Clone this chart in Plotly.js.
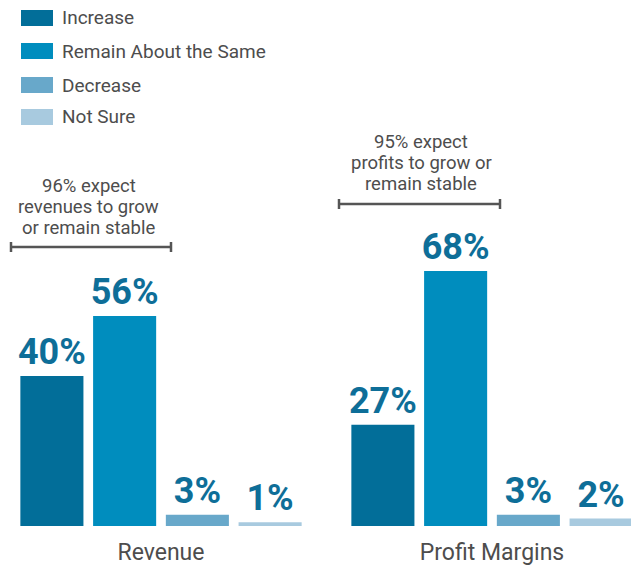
<!DOCTYPE html>
<html>
<head>
<meta charset="utf-8">
<script src="https://cdn.plot.ly/plotly-3.0.1.min.js"></script>
<style>html,body{margin:0;padding:0;background:#fff;}#chart{width:631px;height:565px;}</style>
</head>
<body>
<div id="chart"></div>
<script>
const categories = ['Revenue', 'Profit Margins'];
const seriesNames = ['Increase', 'Remain About the Same', 'Decrease', 'Not Sure'];
const increase = [40, 27];
const remainSame = [56, 68];
const decrease = [3, 3];
const notSure = [1, 2];
const noteRevenue = ['96% expect', 'revenues to grow', 'or remain stable'];
const noteProfit = ['95% expect', 'profits to grow or', 'remain stable'];

const colors = ['#026e99', '#008dbe', '#68a8ca', '#a8cadf'];
const labelColor = '#0e6e98';
const textGray = '#4d4d4d';

const W = 631, H = 565, B = 39;
const PH = H - B;
const px = x => x / W;
const py = y => 1 - y / PH;

const values = [increase, remainSame, decrease, notSure];
const traces = values.map((v, i) => ({
  type: 'bar',
  name: seriesNames[i],
  x: categories,
  y: v,
  marker: {color: colors[i]},
  texttemplate: '%{y}%',
  textposition: 'outside',
  constraintext: 'none',
  cliponaxis: false,
  textfont: {family: 'Roboto', size: 36, color: labelColor, weight: 'bold'},
  hoverinfo: 'none'
}));

const shapes = [];
const annotations = [];

// legend
const legendY = [18, 51, 85, 117];
seriesNames.forEach((n, i) => {
  shapes.push({type: 'rect', xref: 'paper', yref: 'paper',
    x0: px(21), x1: px(53), y0: py(legendY[i] - 8), y1: py(legendY[i] + 8),
    fillcolor: colors[i], line: {width: 0}});
  annotations.push({xref: 'paper', yref: 'paper', x: px(60), y: py(legendY[i]),
    xanchor: 'left', yanchor: 'middle', showarrow: false, text: n,
    font: {family: 'Roboto', size: 19, color: textGray}});
});

// brackets
function bracket(x0, x1, y, h) {
  const lc = {color: '#555555', width: 2.5};
  shapes.push({type: 'line', xref: 'paper', yref: 'paper', x0: px(x0), x1: px(x1), y0: py(y), y1: py(y), line: lc});
  shapes.push({type: 'line', xref: 'paper', yref: 'paper', x0: px(x0), x1: px(x0), y0: py(y - h), y1: py(y + h), line: lc});
  shapes.push({type: 'line', xref: 'paper', yref: 'paper', x0: px(x1), x1: px(x1), y0: py(y - h), y1: py(y + h), line: lc});
}
bracket(11, 171, 247, 5);
bracket(339, 500, 204, 5);

function note(lines, cx, ys) {
  lines.forEach((t, i) => annotations.push({xref: 'paper', yref: 'paper', x: px(cx), y: py(ys[i]),
    xanchor: 'center', yanchor: 'middle', showarrow: false, text: t,
    font: {family: 'Roboto', size: 18.5, color: textGray}}));
}
note(noteRevenue, 89, [186, 207, 228]);
note(noteProfit, 421, [142, 163, 184]);

const layout = {
  width: W, height: H,
  margin: {l: 0, r: 0, t: 0, b: B},
  paper_bgcolor: '#fff', plot_bgcolor: '#fff',
  showlegend: false,
  barmode: 'group',
  bargap: 0.121,
  bargroupgap: 0.133,
  xaxis: {range: [-161 / 331, (631 - 161) / 331], showgrid: false, zeroline: false, showline: false,
    ticks: '', ticklabelstandoff: 10, tickfont: {family: 'Roboto', size: 23, color: textGray}, fixedrange: true},
  yaxis: {range: [0, PH / 3.75], visible: false, fixedrange: true},
  shapes: shapes,
  annotations: annotations
};

Plotly.newPlot('chart', traces, layout, {displayModeBar: false, staticPlot: true});
</script>
</body>
</html>
